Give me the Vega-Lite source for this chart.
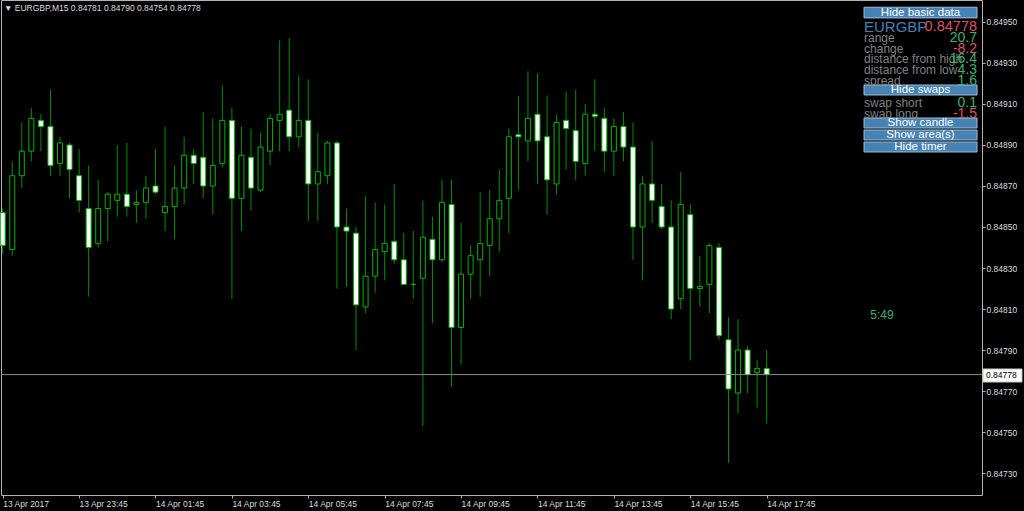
{
  "$schema": "https://vega.github.io/schema/vega-lite/v6.json",
  "width": 981,
  "height": 495,
  "autosize": {"type": "none"},
  "padding": {"left": 1, "top": 0, "right": 42, "bottom": 16},
  "background": "#000000",
  "config": {"view": {"stroke": "#b4b4b4", "strokeWidth": 1}, "font": "Liberation Sans", "scale": {"continuousPadding": 0}},
  "datasets": {
    "candles": [
      {"t":"2017-04-13T21:45:00Z","o":0.84857,"h":0.84859,"l":0.84837,"c":0.84841},
      {"t":"2017-04-13T22:00:00Z","o":0.84839,"h":0.84882,"l":0.84836,"c":0.84875},
      {"t":"2017-04-13T22:15:00Z","o":0.84875,"h":0.84901,"l":0.84869,"c":0.84887},
      {"t":"2017-04-13T22:30:00Z","o":0.84887,"h":0.84908,"l":0.84882,"c":0.84903},
      {"t":"2017-04-13T22:45:00Z","o":0.84902,"h":0.84905,"l":0.84887,"c":0.84899},
      {"t":"2017-04-13T23:00:00Z","o":0.84899,"h":0.84917,"l":0.84875,"c":0.84880},
      {"t":"2017-04-13T23:15:00Z","o":0.84881,"h":0.84894,"l":0.84875,"c":0.84891},
      {"t":"2017-04-13T23:30:00Z","o":0.84890,"h":0.84891,"l":0.84864,"c":0.84878},
      {"t":"2017-04-13T23:45:00Z","o":0.84875,"h":0.84888,"l":0.84857,"c":0.84863},
      {"t":"2017-04-14T00:00:00Z","o":0.84859,"h":0.84880,"l":0.84816,"c":0.84840},
      {"t":"2017-04-14T00:15:00Z","o":0.84842,"h":0.84873,"l":0.84840,"c":0.84859},
      {"t":"2017-04-14T00:30:00Z","o":0.84859,"h":0.84867,"l":0.84843,"c":0.84866},
      {"t":"2017-04-14T00:45:00Z","o":0.84863,"h":0.84890,"l":0.84855,"c":0.84866},
      {"t":"2017-04-14T01:00:00Z","o":0.84866,"h":0.84891,"l":0.84855,"c":0.84860},
      {"t":"2017-04-14T01:15:00Z","o":0.84861,"h":0.84868,"l":0.84852,"c":0.84862},
      {"t":"2017-04-14T01:30:00Z","o":0.84862,"h":0.84875,"l":0.84854,"c":0.84869},
      {"t":"2017-04-14T01:45:00Z","o":0.84870,"h":0.84888,"l":0.84866,"c":0.84867},
      {"t":"2017-04-14T02:00:00Z","o":0.84857,"h":0.84899,"l":0.84848,"c":0.84860},
      {"t":"2017-04-14T02:15:00Z","o":0.84860,"h":0.84880,"l":0.84844,"c":0.84869},
      {"t":"2017-04-14T02:30:00Z","o":0.84869,"h":0.84894,"l":0.84861,"c":0.84885},
      {"t":"2017-04-14T02:45:00Z","o":0.84885,"h":0.84888,"l":0.84871,"c":0.84881},
      {"t":"2017-04-14T03:00:00Z","o":0.84884,"h":0.84906,"l":0.84864,"c":0.84870},
      {"t":"2017-04-14T03:15:00Z","o":0.84870,"h":0.84903,"l":0.84856,"c":0.84880},
      {"t":"2017-04-14T03:30:00Z","o":0.84881,"h":0.84919,"l":0.84879,"c":0.84902},
      {"t":"2017-04-14T03:45:00Z","o":0.84902,"h":0.84908,"l":0.84815,"c":0.84864},
      {"t":"2017-04-14T04:00:00Z","o":0.84864,"h":0.84899,"l":0.84848,"c":0.84885},
      {"t":"2017-04-14T04:15:00Z","o":0.84884,"h":0.84898,"l":0.84858,"c":0.84869},
      {"t":"2017-04-14T04:30:00Z","o":0.84868,"h":0.84896,"l":0.84867,"c":0.84889},
      {"t":"2017-04-14T04:45:00Z","o":0.84887,"h":0.84905,"l":0.84880,"c":0.84903},
      {"t":"2017-04-14T05:00:00Z","o":0.84902,"h":0.84941,"l":0.84887,"c":0.84905},
      {"t":"2017-04-14T05:15:00Z","o":0.84907,"h":0.84942,"l":0.84887,"c":0.84894},
      {"t":"2017-04-14T05:30:00Z","o":0.84894,"h":0.84924,"l":0.84889,"c":0.84902},
      {"t":"2017-04-14T05:45:00Z","o":0.84902,"h":0.84922,"l":0.84853,"c":0.84871},
      {"t":"2017-04-14T06:00:00Z","o":0.84871,"h":0.84896,"l":0.84853,"c":0.84877},
      {"t":"2017-04-14T06:15:00Z","o":0.84875,"h":0.84892,"l":0.84871,"c":0.84891},
      {"t":"2017-04-14T06:30:00Z","o":0.84891,"h":0.84892,"l":0.84820,"c":0.84850},
      {"t":"2017-04-14T06:45:00Z","o":0.84850,"h":0.84859,"l":0.84821,"c":0.84848},
      {"t":"2017-04-14T07:00:00Z","o":0.84847,"h":0.84850,"l":0.84790,"c":0.84812},
      {"t":"2017-04-14T07:15:00Z","o":0.84811,"h":0.84865,"l":0.84808,"c":0.84826},
      {"t":"2017-04-14T07:30:00Z","o":0.84826,"h":0.84862,"l":0.84818,"c":0.84839},
      {"t":"2017-04-14T07:45:00Z","o":0.84838,"h":0.84861,"l":0.84824,"c":0.84842},
      {"t":"2017-04-14T08:00:00Z","o":0.84843,"h":0.84871,"l":0.84832,"c":0.84834},
      {"t":"2017-04-14T08:15:00Z","o":0.84834,"h":0.84847,"l":0.84822,"c":0.84822},
      {"t":"2017-04-14T08:30:00Z","o":0.84822,"h":0.84848,"l":0.84815,"c":0.84822},
      {"t":"2017-04-14T08:45:00Z","o":0.84825,"h":0.84863,"l":0.84753,"c":0.84845},
      {"t":"2017-04-14T09:00:00Z","o":0.84844,"h":0.84855,"l":0.84803,"c":0.84834},
      {"t":"2017-04-14T09:15:00Z","o":0.84834,"h":0.84873,"l":0.84833,"c":0.84862},
      {"t":"2017-04-14T09:30:00Z","o":0.84861,"h":0.84873,"l":0.84772,"c":0.84801},
      {"t":"2017-04-14T09:45:00Z","o":0.84801,"h":0.84852,"l":0.84783,"c":0.84827},
      {"t":"2017-04-14T10:00:00Z","o":0.84827,"h":0.84841,"l":0.84815,"c":0.84836},
      {"t":"2017-04-14T10:15:00Z","o":0.84834,"h":0.84867,"l":0.84816,"c":0.84842},
      {"t":"2017-04-14T10:30:00Z","o":0.84841,"h":0.84868,"l":0.84826,"c":0.84854},
      {"t":"2017-04-14T10:45:00Z","o":0.84854,"h":0.84878,"l":0.84838,"c":0.84863},
      {"t":"2017-04-14T11:00:00Z","o":0.84864,"h":0.84898,"l":0.84847,"c":0.84894},
      {"t":"2017-04-14T11:15:00Z","o":0.84895,"h":0.84914,"l":0.84868,"c":0.84894},
      {"t":"2017-04-14T11:30:00Z","o":0.84892,"h":0.84926,"l":0.84882,"c":0.84903},
      {"t":"2017-04-14T11:45:00Z","o":0.84905,"h":0.84925,"l":0.84871,"c":0.84892},
      {"t":"2017-04-14T12:00:00Z","o":0.84894,"h":0.84914,"l":0.84856,"c":0.84873},
      {"t":"2017-04-14T12:15:00Z","o":0.84871,"h":0.84905,"l":0.84866,"c":0.84901},
      {"t":"2017-04-14T12:30:00Z","o":0.84902,"h":0.84916,"l":0.84878,"c":0.84898},
      {"t":"2017-04-14T12:45:00Z","o":0.84897,"h":0.84917,"l":0.84873,"c":0.84882},
      {"t":"2017-04-14T13:00:00Z","o":0.84881,"h":0.84910,"l":0.84875,"c":0.84905},
      {"t":"2017-04-14T13:15:00Z","o":0.84905,"h":0.84922,"l":0.84887,"c":0.84904},
      {"t":"2017-04-14T13:30:00Z","o":0.84903,"h":0.84908,"l":0.84877,"c":0.84887},
      {"t":"2017-04-14T13:45:00Z","o":0.84887,"h":0.84903,"l":0.84875,"c":0.84899},
      {"t":"2017-04-14T14:00:00Z","o":0.84899,"h":0.84906,"l":0.84882,"c":0.84889},
      {"t":"2017-04-14T14:15:00Z","o":0.84889,"h":0.84901,"l":0.84834,"c":0.84850},
      {"t":"2017-04-14T14:30:00Z","o":0.84850,"h":0.84875,"l":0.84824,"c":0.84871},
      {"t":"2017-04-14T14:45:00Z","o":0.84871,"h":0.84892,"l":0.84852,"c":0.84863},
      {"t":"2017-04-14T15:00:00Z","o":0.84860,"h":0.84871,"l":0.84849,"c":0.84850},
      {"t":"2017-04-14T15:15:00Z","o":0.84850,"h":0.84863,"l":0.84805,"c":0.84810},
      {"t":"2017-04-14T15:30:00Z","o":0.84815,"h":0.84877,"l":0.84810,"c":0.84861},
      {"t":"2017-04-14T15:45:00Z","o":0.84856,"h":0.84861,"l":0.84785,"c":0.84820},
      {"t":"2017-04-14T16:00:00Z","o":0.84820,"h":0.84836,"l":0.84811,"c":0.84821},
      {"t":"2017-04-14T16:15:00Z","o":0.84822,"h":0.84842,"l":0.84808,"c":0.84841},
      {"t":"2017-04-14T16:30:00Z","o":0.84840,"h":0.84842,"l":0.84795,"c":0.84797},
      {"t":"2017-04-14T16:45:00Z","o":0.84795,"h":0.84806,"l":0.84735,"c":0.84771},
      {"t":"2017-04-14T17:00:00Z","o":0.84769,"h":0.84805,"l":0.84759,"c":0.84790},
      {"t":"2017-04-14T17:15:00Z","o":0.84790,"h":0.84792,"l":0.84769,"c":0.84778},
      {"t":"2017-04-14T17:30:00Z","o":0.84779,"h":0.84785,"l":0.84762,"c":0.84781},
      {"t":"2017-04-14T17:45:00Z","o":0.84781,"h":0.84790,"l":0.84754,"c":0.84778}
    ],
    "bid": [{"price": 0.84778, "text": "0.84778"}],
    "header": [{"text": "▼  EURGBP,M15  0.84781 0.84790 0.84754 0.84778"}],
    "timer": [{"text": "5:49"}],
    "buttons": [
      {"label": "Hide basic data", "top": 0.849572, "bottom": 0.849520},
      {"label": "Hide swaps", "top": 0.8491927, "bottom": 0.8491439},
      {"label": "Show candle", "top": 0.8490317, "bottom": 0.8489829},
      {"label": "Show area(s)", "top": 0.8489732, "bottom": 0.8489244},
      {"label": "Hide timer", "top": 0.8489146, "bottom": 0.8488659}
    ],
    "symbol": [{"symbol": "EURGBP", "bid": "0.84778", "price": 0.8494771}],
    "stats": [
      {"label": "range", "value": "20.7", "price": 0.8494234},
      {"label": "change", "value": "-8.2", "price": 0.8493698},
      {"label": "distance from high", "value": "16.4", "price": 0.849318},
      {"label": "distance from low", "value": "4.3", "price": 0.8492644},
      {"label": "spread", "value": "1.6", "price": 0.8492137},
      {"label": "swap short", "value": "0.1", "price": 0.8491034},
      {"label": "swap long", "value": "-1.5", "price": 0.8490527}
    ]
  },
  "layer": [
    {
      "data": {"name": "candles"},
      "mark": {"type": "rule", "color": "#009000", "strokeWidth": 1},
      "encoding": {
        "x": {
          "field": "t", "type": "temporal",
          "scale": {"type": "utc", "domain": [1492119740000, 1492212192000], "nice": false, "padding": 0},
          "axis": {
            "title": null, "grid": false, "domain": false,
            "values": [1492119900000, 1492127100000, 1492134300000, 1492141500000, 1492148700000, 1492155900000, 1492163100000, 1492170300000, 1492177500000, 1492184700000, 1492191900000],
            "labelExpr": "+datum.value == 1492119900000 ? '13 Apr 2017' : utcFormat(datum.value, '%-d %b %H:%M')",
            "labelAlign": "left", "labelBaseline": "top", "labelPadding": 1,
            "labelFlush": false, "labelOverlap": false, "labelBound": false,
            "tickSize": 3, "tickColor": "#b4b4b4",
            "labelColor": "#dcdcdc", "labelFont": "Liberation Sans", "labelFontSize": 8.5
          }
        },
        "y": {
          "field": "h", "type": "quantitative",
          "scale": {"domain": [0.8471927, 0.8496073], "zero": false, "nice": false, "padding": 0},
          "axis": {
            "orient": "right", "title": null, "grid": false, "domain": false,
            "values": [0.8473, 0.8475, 0.8477, 0.8479, 0.8481, 0.8483, 0.8485, 0.8487, 0.8489, 0.8491, 0.8493, 0.8495],
            "format": ".5f", "labelAlign": "left", "labelBaseline": "middle",
            "labelPadding": 1, "tickSize": 3, "tickColor": "#b4b4b4",
            "labelColor": "#dcdcdc", "labelFont": "Liberation Sans", "labelFontSize": 8.5,
            "labelOverlap": false, "labelBound": false, "labelFlush": false
          }
        },
        "y2": {"field": "l"}
      }
    },
    {
      "data": {"name": "candles"},
      "mark": {"type": "bar", "width": 5, "stroke": "#00b400", "strokeWidth": 1},
      "encoding": {
        "x": {"field": "t", "type": "temporal", "scale": {"type": "utc", "domain": [1492119740000, 1492212192000], "nice": false, "padding": 0}},
        "y": {"field": "o", "type": "quantitative", "scale": {"domain": [0.8471927, 0.8496073], "zero": false, "nice": false, "padding": 0}},
        "y2": {"field": "c"},
        "fill": {"condition": {"test": "datum.c < datum.o", "value": "#ffffff"}, "value": "#000000"}
      }
    },
    {
      "data": {"name": "bid"},
      "mark": {"type": "rule", "color": "#8c8c8c", "strokeWidth": 1},
      "encoding": {
        "y": {"field": "price", "type": "quantitative", "scale": {"domain": [0.8471927, 0.8496073], "zero": false, "nice": false, "padding": 0}}
      }
    },
    {
      "data": {"name": "bid"},
      "mark": {"type": "rect", "fill": "#ffffff", "stroke": "#c8c8c8", "strokeWidth": 1},
      "encoding": {
        "x": {"datum": 1492212288000, "type": "temporal", "scale": {"type": "utc", "domain": [1492119740000, 1492212192000], "nice": false, "padding": 0}},
        "x2": {"datum": 1492215960000},
        "y": {"datum": 0.8478073, "type": "quantitative", "scale": {"domain": [0.8471927, 0.8496073], "zero": false, "nice": false, "padding": 0}},
        "y2": {"datum": 0.8477439}
      }
    },
    {
      "data": {"name": "bid"},
      "mark": {"type": "text", "color": "#000000", "font": "Liberation Sans", "fontSize": 8.5, "align": "left", "baseline": "middle"},
      "encoding": {
        "x": {"datum": 1492212570000, "type": "temporal", "scale": {"type": "utc", "domain": [1492119740000, 1492212192000], "nice": false, "padding": 0}},
        "y": {"field": "price", "type": "quantitative", "scale": {"domain": [0.8471927, 0.8496073], "zero": false, "nice": false, "padding": 0}},
        "text": {"field": "text"}
      }
    },
    {
      "data": {"name": "header"},
      "mark": {"type": "text", "color": "#dcdcdc", "font": "Liberation Sans", "fontSize": 8.5, "align": "left", "baseline": "middle"},
      "encoding": {
        "x": {"datum": 1492120022000, "type": "temporal", "scale": {"type": "utc", "domain": [1492119740000, 1492212192000], "nice": false, "padding": 0}},
        "y": {"datum": 0.8495683, "type": "quantitative", "scale": {"domain": [0.8471927, 0.8496073], "zero": false, "nice": false, "padding": 0}},
        "text": {"field": "text"}
      }
    },
    {
      "data": {"name": "timer"},
      "mark": {"type": "text", "color": "#3cb371", "font": "Liberation Sans", "fontSize": 12, "align": "center", "baseline": "middle"},
      "encoding": {
        "x": {"datum": 1492202760000, "type": "temporal", "scale": {"type": "utc", "domain": [1492119740000, 1492212192000], "nice": false, "padding": 0}},
        "y": {"datum": 0.84807, "type": "quantitative", "scale": {"domain": [0.8471927, 0.8496073], "zero": false, "nice": false, "padding": 0}},
        "text": {"field": "text"}
      }
    },
    {
      "data": {"name": "buttons"},
      "mark": {"type": "rect", "fill": "#4682b4", "stroke": "#9fbcd8", "strokeWidth": 1},
      "encoding": {
        "x": {"datum": 1492201074000, "type": "temporal", "scale": {"type": "utc", "domain": [1492119740000, 1492212192000], "nice": false, "padding": 0}},
        "x2": {"datum": 1492211724000},
        "y": {"field": "top", "type": "quantitative", "scale": {"domain": [0.8471927, 0.8496073], "zero": false, "nice": false, "padding": 0}},
        "y2": {"field": "bottom"}
      }
    },
    {
      "data": {"name": "buttons"},
      "mark": {"type": "text", "color": "#ffffff", "font": "Liberation Sans", "fontSize": 11.5, "align": "center", "baseline": "middle", "dy": 5.4},
      "encoding": {
        "x": {"datum": 1492206396000, "type": "temporal", "scale": {"type": "utc", "domain": [1492119740000, 1492212192000], "nice": false, "padding": 0}},
        "y": {"field": "top", "type": "quantitative", "scale": {"domain": [0.8471927, 0.8496073], "zero": false, "nice": false, "padding": 0}},
        "text": {"field": "label"}
      }
    },
    {
      "data": {"name": "symbol"},
      "mark": {"type": "text", "color": "#4682b4", "font": "Liberation Sans", "fontSize": 15, "align": "left", "baseline": "middle"},
      "encoding": {
        "x": {"datum": 1492201074000, "type": "temporal", "scale": {"type": "utc", "domain": [1492119740000, 1492212192000], "nice": false, "padding": 0}},
        "y": {"field": "price", "type": "quantitative", "scale": {"domain": [0.8471927, 0.8496073], "zero": false, "nice": false, "padding": 0}},
        "text": {"field": "symbol"}
      }
    },
    {
      "data": {"name": "symbol"},
      "mark": {"type": "text", "color": "#dc5068", "font": "Liberation Sans", "fontSize": 14.5, "align": "right", "baseline": "middle"},
      "encoding": {
        "x": {"datum": 1492211724000, "type": "temporal", "scale": {"type": "utc", "domain": [1492119740000, 1492212192000], "nice": false, "padding": 0}},
        "y": {"field": "price", "type": "quantitative", "scale": {"domain": [0.8471927, 0.8496073], "zero": false, "nice": false, "padding": 0}},
        "text": {"field": "bid"}
      }
    },
    {
      "data": {"name": "stats"},
      "mark": {"type": "text", "color": "#808080", "font": "Liberation Sans", "fontSize": 12, "align": "left", "baseline": "middle"},
      "encoding": {
        "x": {"datum": 1492201074000, "type": "temporal", "scale": {"type": "utc", "domain": [1492119740000, 1492212192000], "nice": false, "padding": 0}},
        "y": {"field": "price", "type": "quantitative", "scale": {"domain": [0.8471927, 0.8496073], "zero": false, "nice": false, "padding": 0}},
        "text": {"field": "label"}
      }
    },
    {
      "data": {"name": "stats"},
      "mark": {"type": "text", "font": "Liberation Sans", "fontSize": 14, "align": "right", "baseline": "middle"},
      "encoding": {
        "x": {"datum": 1492211724000, "type": "temporal", "scale": {"type": "utc", "domain": [1492119740000, 1492212192000], "nice": false, "padding": 0}},
        "y": {"field": "price", "type": "quantitative", "scale": {"domain": [0.8471927, 0.8496073], "zero": false, "nice": false, "padding": 0}},
        "text": {"field": "value"},
        "color": {"condition": {"test": "toNumber(datum.value) < 0", "value": "#dc5068"}, "value": "#3cb371"}
      }
    }
  ]
}
